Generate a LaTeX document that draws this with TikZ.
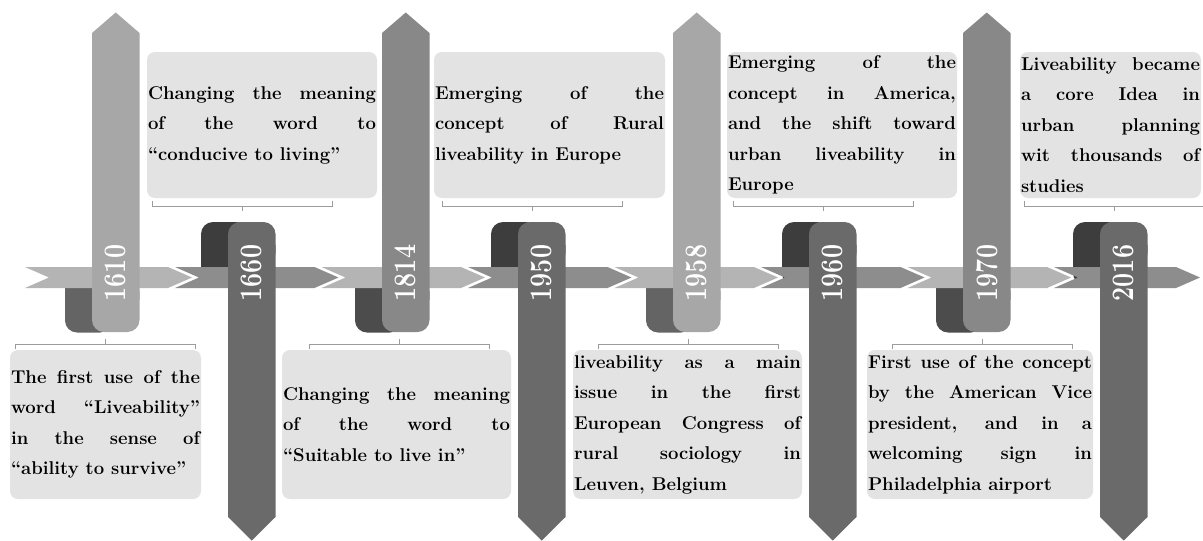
\documentclass[tikz,border=0pt]{standalone}
\usepackage{graphicx}
\usetikzlibrary{calc}

\definecolor{bandlight}{HTML}{B4B4B4}
\definecolor{bandmid}{HTML}{8D8D8D}
\definecolor{uplight}{HTML}{A7A7A7}
\definecolor{upmid}{HTML}{888888}
\definecolor{downbar}{HTML}{6A6A6A}
\definecolor{foldlight}{HTML}{646464}
\definecolor{foldmid}{HTML}{4C4C4C}
\definecolor{folddown}{HTML}{3D3D3D}
\definecolor{boxgray}{HTML}{E3E3E3}
\definecolor{brgray}{HTML}{9C9C9C}

\tikzset{
  box/.style={fill=boxgray, rounded corners=8pt, inner xsep=1pt, inner ysep=0pt,
    align=justify, font=\fontsize{18.5}{30.5}\selectfont\bfseries, text=black},
  bracket/.style={draw=brgray, line width=0.9pt},
  yearlabel/.style={text=white, font=\fontsize{25}{25}\selectfont\bfseries,
    rotate=90, inner sep=0pt},
}

% chevron segment of the time band: left notch at #1, point at #2
\newcommand{\bandseg}[3]{%
  \fill[#3] (#1,267) -- ({#2-24},267) -- (#2,277.5) -- ({#2-24},288)
    -- (#1,288) -- ({#1+24},277.5) -- cycle;}

% upward bar: left edge #1, colour #2
\newcommand{\upfold}[2]{%
  \fill[#2, rounded corners=12pt] ({#1-27},270) rectangle ({#1+20},332.5);}
\newcommand{\upbar}[2]{%
  \fill[#2] (#1,33) -- ({#1+23.75},12.5) -- ({#1+47.5},33) -- ({#1+47.5},300)
    -- (#1,300) -- cycle;
  \fill[#2, rounded corners=12pt] (#1,280) rectangle ({#1+47.5},332);}

% downward bar: left edge #1
\newcommand{\downfold}[1]{%
  \fill[folddown, rounded corners=12pt] ({#1-27},222) rectangle ({#1+20},285);}
\newcommand{\downbar}[1]{%
  \fill[downbar, rounded corners=12pt] (#1,222) rectangle ({#1+47.5},265);
  \fill[downbar] (#1,245) -- ({#1+47.5},245) -- ({#1+47.5},517)
    -- ({#1+23.75},540.5) -- (#1,517) -- cycle;}

\begin{document}
\begin{tikzpicture}[x=1pt,y=-1pt]
\useasboundingbox (0,0) rectangle (1203,541);
\fill[white] (0,0) rectangle (1203,541);

% ---- text boxes above the band ----
\node[box, text width=228pt, minimum height=146pt] (e1660) at (262,125)
  {Changing the meaning\linebreak of the word to\linebreak ``conducive to living''};
\node[box, text width=229pt, minimum height=146pt] (e1950) at (549.5,125)
  {Emerging of the\linebreak concept of Rural\linebreak liveability in Europe};
\node[box, text width=228pt, minimum height=146pt] (e1960) at (842,125)
  {Emerging of the\linebreak concept in America,\linebreak and the shift toward\linebreak urban liveability in\linebreak Europe};
\node[box, text width=179pt, minimum height=146pt] (e2016) at (1110.5,125)
  {Liveability became\linebreak a core Idea in\linebreak urban planning\linebreak wit thousands of\linebreak studies};

% ---- text boxes below the band ----
\node[box, text width=189pt, minimum height=149pt] (e1610) at (105.5,424.5)
  {The first use of the\linebreak word ``Liveability''\linebreak in the sense of\linebreak ``ability to survive''};
\node[box, text width=227pt, minimum height=149pt] (e1814) at (396.5,424.5)
  {Changing the meaning\linebreak of the word to\linebreak ``Suitable to live in''};
\node[box, text width=227pt, minimum height=149pt] (e1958) at (687.5,424.5)
  {liveability as a main\linebreak issue in the first\linebreak European Congress of\linebreak rural sociology in\linebreak Leuven, Belgium};
\node[box, text width=224pt, minimum height=149pt] (e1970) at (980,424.5)
  {First use of the concept\linebreak by the American Vice\linebreak president, and in a\linebreak welcoming sign in\linebreak Philadelphia airport};

% ---- brackets joining boxes and bars ----
\coordinate (k1660) at (242,206);
\coordinate (k1950) at (532,206);
\coordinate (k1960) at (823,206);
\coordinate (k2016) at (1114,206);
\foreach \k in {k1660,k1950,k1960,k2016}{
  \draw[bracket] (\k) ++(-90,-5) -- ++(0,5) -- ++(180,0) -- ++(0,-5);
  \draw[bracket] (\k) -- ++(0,5);
}
\coordinate (k1610) at (105,344);
\coordinate (k1814) at (399.5,344);
\coordinate (k1958) at (688,344);
\coordinate (k1970) at (982,344);
\foreach \k in {k1610,k1814,k1958,k1970}{
  \draw[bracket] (\k) ++(-90,5) -- ++(0,-5) -- ++(180,0) -- ++(0,5);
  \draw[bracket] (\k) -- ++(0,-5);
}

% ---- folded ends behind the band ----
\upfold{92}{foldlight}
\upfold{382}{foldmid}
\upfold{673}{foldlight}
\upfold{963}{foldmid}
\downfold{228}
\downfold{518}
\downfold{809}
\downfold{1100}

% ---- time band ----
\bandseg{25}{192}{bandlight}
\bandseg{175}{338.5}{bandmid}
\bandseg{321.5}{485}{bandlight}
\bandseg{468}{631.5}{bandmid}
\bandseg{614.5}{778}{bandlight}
\bandseg{761}{924.5}{bandmid}
\bandseg{907.5}{1071}{bandlight}
\bandseg{1054}{1200}{bandmid}

% ---- year bars ----
\upbar{92}{uplight}
\upbar{382}{upmid}
\upbar{673}{uplight}
\upbar{963}{upmid}
\downbar{228}
\downbar{518}
\downbar{809}
\downbar{1100}

% ---- year labels ----
\node[yearlabel] (y1610) at (115.75,273) {\scalebox{1}[1.25]{1610}};
\node[yearlabel] (y1660) at (251.75,273) {\scalebox{1}[1.25]{1660}};
\node[yearlabel] (y1814) at (405.75,273) {\scalebox{1}[1.25]{1814}};
\node[yearlabel] (y1950) at (541.75,273) {\scalebox{1}[1.25]{1950}};
\node[yearlabel] (y1958) at (696.75,273) {\scalebox{1}[1.25]{1958}};
\node[yearlabel] (y1960) at (832.75,273) {\scalebox{1}[1.25]{1960}};
\node[yearlabel] (y1970) at (986.75,273) {\scalebox{1}[1.25]{1970}};
\node[yearlabel] (y2016) at (1123.75,273) {\scalebox{1}[1.25]{2016}};
\end{tikzpicture}
\end{document}
